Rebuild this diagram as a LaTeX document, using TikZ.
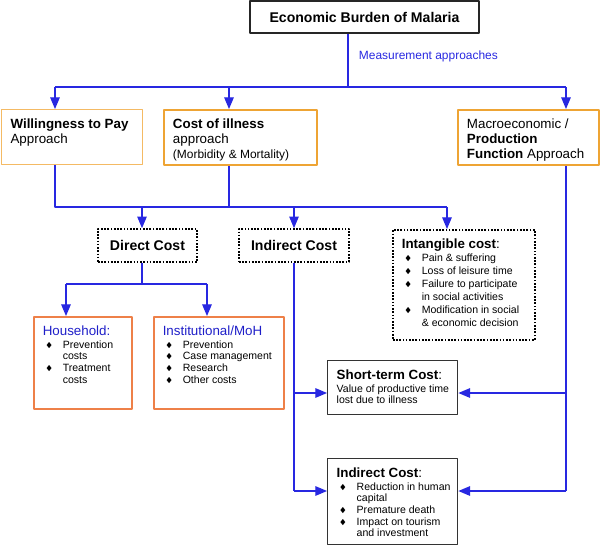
\documentclass[tikz,border=0pt]{standalone}
\usepackage{amssymb}
\usepackage{fontspec}
\setmainfont{Liberation Sans}
\usetikzlibrary{arrows}

\newlength{\pxu}
\setlength{\pxu}{0.025cm}
\definecolor{linkblue}{RGB}{40,40,225}
\definecolor{titleblue}{RGB}{30,30,200}
\definecolor{paleorange}{RGB}{244,186,100}
\definecolor{deeporange}{RGB}{238,164,52}
\definecolor{redorange}{RGB}{238,128,72}

\newcommand{\hdfont}{\fontsize{9.5}{10.6}\selectfont}
\newcommand{\lsfont}{\fontsize{7.5}{8.3}\selectfont}
\newcommand{\bull}{\makebox[20\pxu][l]{\hspace{3\pxu}\raisebox{0.2ex}{\fontsize{5}{5}\selectfont$\blacklozenge$}}}
\newcommand{\cont}{\hspace*{20\pxu}}
% box of w x h pixels, text from the top left corner
\newcommand{\boxcell}[3]{\parbox[c][\dimexpr#2\pxu-18\pxu\relax][t]{\dimexpr#1\pxu-18\pxu\relax}{\raggedright#3}}

\begin{document}
\begin{tikzpicture}[x=0.025cm,y=-0.025cm,line join=round,>=triangle 45,
    conn/.style={draw=linkblue,line width=0.9pt},
    mainbox/.style={draw=black!85,line width=1.4pt,minimum width=229\pxu,minimum height=32\pxu,font=\fontsize{10}{12}\selectfont\bfseries},
    dotbox/.style={draw=black,line width=1.2pt,dash pattern=on 1.2pt off 1.1pt,font=\fontsize{10}{12}\selectfont\bfseries},
    cellbox/.style={anchor=north west,inner sep=0.225cm},
    wtpbox/.style={cellbox,draw=paleorange,line width=0.8pt},
    approachbox/.style={cellbox,draw=deeporange,line width=1.4pt},
    costbox/.style={cellbox,draw=redorange,line width=1.1pt},
    lostbox/.style={cellbox,draw=black!80,line width=1pt}]
  \useasboundingbox (0,0) rectangle (600,546);

  \node[mainbox] (burden) at (364.5,17) {Economic Burden of Malaria};
  \node[anchor=west,text=linkblue,font=\fontsize{8.5}{10}\selectfont] (measure) at (354,56) {Measurement approaches};

  % approaches
  \node[wtpbox] (wtp) at (1,109) {\boxcell{141}{55}{\hdfont\mbox{\textbf{Willingness to Pay}}\\Approach}};
  \node[approachbox] (coi) at (163,109) {\boxcell{153}{55}{\hdfont\textbf{Cost of illness}\\approach\\\mbox{\fontsize{8.5}{10}\selectfont(Morbidity \& Mortality)}}};
  \node[approachbox] (macro) at (457,109) {\boxcell{141}{55}{\hdfont Macroeconomic /\\\textbf{Production}\\\mbox{\textbf{Function} Approach}}};

  % cost types
  \node[dotbox,minimum width=99\pxu,minimum height=33\pxu] (direct) at (147.5,245.5) {Direct Cost};
  \node[dotbox,minimum width=110\pxu,minimum height=33\pxu] (indirect) at (294,245.5) {Indirect Cost};
  \node[dotbox,cellbox,font=\normalfont] (intangible) at (392,229) {\boxcell{142}{110}{\hdfont\textbf{Intangible cost}:\par
    \fontsize{7.5}{9.2}\selectfont
    \mbox{\bull Pain \& suffering}\\
    \mbox{\bull Loss of leisure time}\\
    \mbox{\bull Failure to participate}\\
    \mbox{\cont in social activities}\\
    \mbox{\bull Modification in social}\\
    \mbox{\cont\& economic decision}}};

  \node[costbox] (household) at (33,316) {\boxcell{98}{92}{\hdfont\textcolor{titleblue}{Household:}\par
    \vspace{0.8pt}\lsfont
    \mbox{\bull Prevention}\\
    \mbox{\cont costs}\\
    \mbox{\bull Treatment}\\
    \mbox{\cont costs}}};
  \node[costbox] (institution) at (153,316) {\boxcell{130}{92}{\hdfont\textcolor{titleblue}{Institutional/MoH}\par
    \vspace{0.8pt}\lsfont
    \mbox{\bull Prevention}\\
    \mbox{\bull Case management}\\
    \mbox{\bull Research}\\
    \mbox{\bull Other costs}}};

  \node[lostbox] (shortterm) at (327,360) {\boxcell{130}{54}{\hdfont\textbf{Short-term Cost}:\par
    \vspace{0.8pt}\lsfont
    \mbox{Value of productive time}\\
    \mbox{lost due to illness}}};
  \node[lostbox] (longterm) at (327,458) {\boxcell{130}{86}{\hdfont\textbf{Indirect Cost}:\par
    \vspace{0.8pt}\lsfont
    \mbox{\bull Reduction in human}\\
    \mbox{\cont capital}\\
    \mbox{\bull Premature death}\\
    \mbox{\bull Impact on tourism}\\
    \mbox{\cont and investment}}};

  % junctions
  \coordinate (split) at (348,87);
  \coordinate (busL) at (55,87);
  \coordinate (busC) at (229,87);
  \coordinate (busR) at (566,87);
  \coordinate (bus2L) at (55,207);
  \coordinate (bus2R) at (447,207);
  \coordinate (dx) at (142,207);
  \coordinate (bus3L) at (66,284);
  \coordinate (bus3R) at (207,284);
  \coordinate (midL) at (294,393);
  \coordinate (lowL) at (294,491);
  \coordinate (midR) at (566,393);
  \coordinate (lowR) at (566,491);

  \draw[conn] (split |- burden.south) -- (split);
  \draw[conn] (busL) -- (busR);
  \draw[conn,->] (busL) -- (busL |- wtp.north);
  \draw[conn,->] (busC) -- (busC |- coi.north);
  \draw[conn,->] (busR) -- (busR |- macro.north);

  \draw[conn] (busL |- wtp.south) -- (bus2L) -- (bus2R);
  \draw[conn] (busC |- coi.south) -- (busC |- bus2L);
  \draw[conn,->] (dx) -- (dx |- direct.north);
  \draw[conn,->] (indirect.north |- bus2L) -- (indirect.north);
  \draw[conn,->] (bus2R) -- (bus2R |- intangible.north);

  \draw[conn] (dx |- direct.south) -- (dx |- bus3L);
  \draw[conn] (bus3L) -- (bus3R);
  \draw[conn,->] (bus3L) -- (bus3L |- household.north);
  \draw[conn,->] (bus3R) -- (bus3R |- institution.north);

  \draw[conn] (indirect.south) -- (lowL);
  \draw[conn,->] (midL) -- (midL -| shortterm.west);
  \draw[conn,->] (lowL) -- (lowL -| longterm.west);
  \draw[conn] (busR |- macro.south) -- (lowR);
  \draw[conn,->] (midR) -- (midR -| shortterm.east);
  \draw[conn,->] (lowR) -- (lowR -| longterm.east);
\end{tikzpicture}
\end{document}
